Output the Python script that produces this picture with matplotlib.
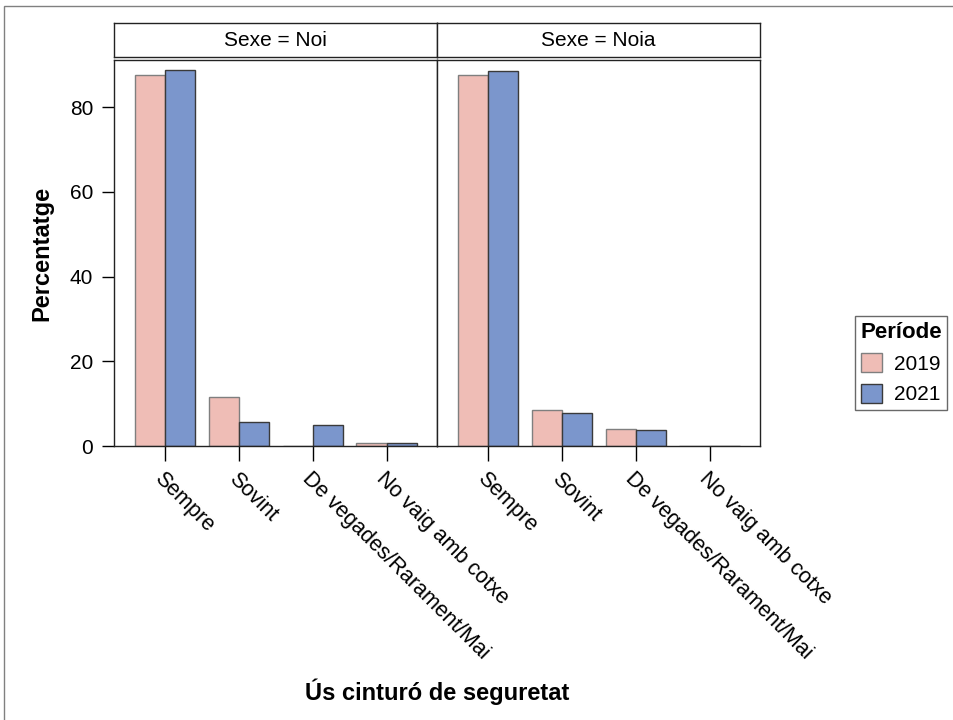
import matplotlib.pyplot as plt
import numpy as np
from matplotlib.patches import Patch, Rectangle

plt.rcParams['font.family'] = ['Liberation Sans', 'DejaVu Sans']

# data
categories = ["Sempre", "Sovint", "De vegades/Rarament/Mai", "No vaig amb cotxe"]
panels = ["Sexe = Noi", "Sexe = Noia"]
noi_2019 = [87.6, 11.5, 0.0, 0.8]
noi_2021 = [88.7, 5.6, 5.0, 0.6]
noia_2019 = [87.5, 8.6, 3.9, 0.0]
noia_2021 = [88.4, 7.7, 3.8, 0.0]
values = [(noi_2019, noi_2021), (noia_2019, noia_2021)]
years = ["2019", "2021"]

pink = "#EFBDB6"
blue = "#7B96CC"

fig = plt.figure(figsize=(9.54, 7.2), dpi=100)
W, H = 954, 720

# outer frame
fig.patches.append(Rectangle((4 / W, -0.1), 1.2, 1 - 6 / H + 0.1, transform=fig.transFigure,
                             fill=False, edgecolor="#808080", linewidth=1))

x = np.arange(len(categories))
width = 0.41
panel_left = [114, 437]
panel_w = 323

for i in range(2):
    ax = fig.add_axes([panel_left[i] / W, 1 - 446 / H, panel_w / W, (446 - 60) / H])
    v19, v21 = values[i]
    ax.bar(x - width / 2, v19, width, color=pink, edgecolor="#7f7f7f", linewidth=1)
    ax.bar(x + width / 2, v21, width, color=blue, edgecolor="#3a3a3a", linewidth=1)
    ax.set_xlim(-0.69, 3.68)
    ax.set_ylim(0, 91.1)
    ax.set_xticks(x)
    ax.set_xticklabels(categories, rotation=-45, ha="left", va="top",
                       rotation_mode="anchor", fontsize=15.5)
    ax.tick_params(axis="x", length=11, width=1, pad=5)
    for s in ax.spines.values():
        s.set_linewidth(1)
        s.set_color("#222222")
    if i == 0:
        ax.set_yticks([0, 20, 40, 60, 80])
        ax.tick_params(axis="y", labelsize=15, length=9, width=1, pad=6)
    else:
        ax.set_yticks([])

    # strip label
    sax = fig.add_axes([panel_left[i] / W, 1 - 57 / H, panel_w / W, (57 - 23) / H])
    sax.set_xticks([])
    sax.set_yticks([])
    for s in sax.spines.values():
        s.set_linewidth(1)
        s.set_color("#222222")
    sax.text(0.5, 0.5, panels[i], ha="center", va="center", fontsize=15,
             transform=sax.transAxes)

fig.text(42 / W, 1 - 253 / H, "Percentatge", rotation=90, ha="center", va="center",
         fontsize=17, fontweight="bold")
fig.text(437 / W, 1 - 692 / H, "Ús cinturó de seguretat", ha="center", va="center",
         fontsize=17, fontweight="bold")

handles = [Patch(facecolor=pink, edgecolor="#7f7f7f", label=years[0]),
           Patch(facecolor=blue, edgecolor="#3a3a3a", label=years[1])]
leg = fig.legend(handles=handles, title="Període", loc="center",
                 bbox_to_anchor=(901 / W, 1 - 363 / H), fontsize=15,
                 title_fontproperties={"weight": "bold", "size": 16},
                 frameon=True, fancybox=False, edgecolor="#444444",
                 handlelength=1.0, handleheight=1.0, borderpad=0.25, labelspacing=0.5,
                 handletextpad=0.6)
leg.get_frame().set_linewidth(1)

fig.savefig("out.png", dpi=100)
